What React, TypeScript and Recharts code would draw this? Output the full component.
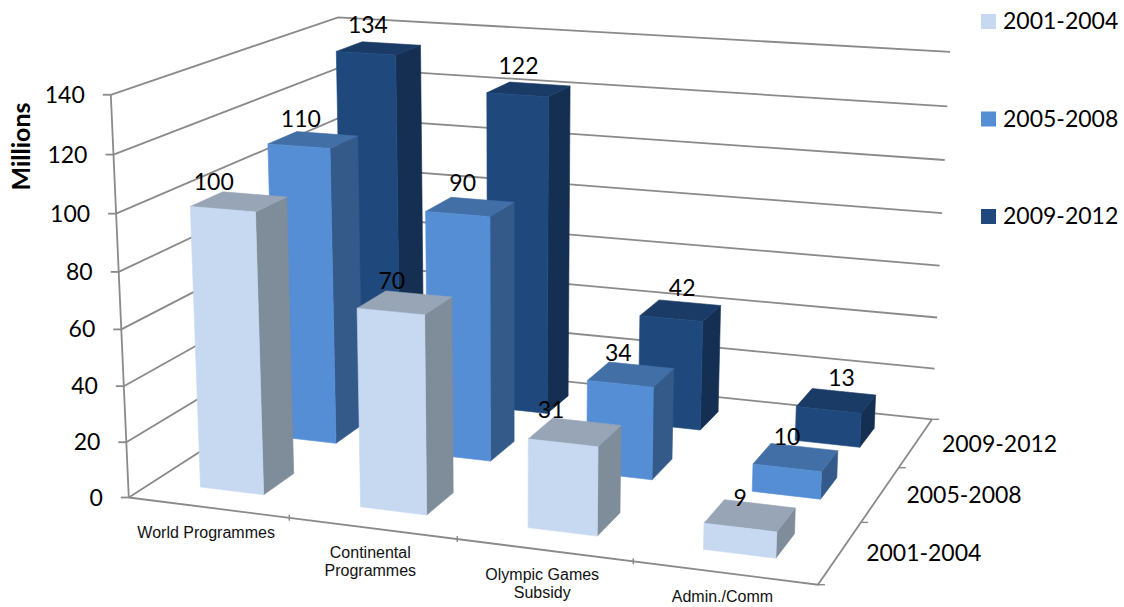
/**
 * IAAF-style funding chart: three periods of grants per programme, drawn as
 * perspective columns. Recharts supplies the scales; the column shapes push the
 * scaled pixels through a small camera fitted to the frame of the box.
 */
import { Bar, BarChart, CartesianGrid, Customized, XAxis, YAxis } from "recharts";

const categories = ["World Programmes", "Continental\nProgrammes", "Olympic Games\nSubsidy", "Admin./Comm"];
const periods = ["2001-2004", "2005-2008", "2009-2012"];
const values2001 = [100, 70, 31, 9];
const values2005 = [110, 90, 34, 10];
const values2009 = [134, 122, 42, 13];
const valueTicks = [0, 20, 40, 60, 80, 100, 120, 140];

const chartData = categories.map((name, i) => ({
  name,
  p2001: values2001[i],
  p2005: values2005[i],
  p2009: values2009[i],
}));

const CHART_W = 1124;
const CHART_H = 607;
const MAX_VALUE = 140;
const BAR_SHARE = 0.4; // gap width 150%
const BAR_W = (CHART_W / categories.length) * BAR_SHARE;

const LINE = "#8a8a8a";
const LINE_W = 1.8;
const LABEL_FONT = "Lato, sans-serif";
const AXIS_FONT = "'Liberation Sans', Arial, sans-serif";

const palette = [
  { front: "#C6D9F1", top: "#98A5B7", side: "#7F8C99" },
  { front: "#558ED5", top: "#426FA6", side: "#345A8A" },
  { front: "#1F497D", top: "#1A3B66", side: "#152F52" },
];

// hand placement of the value labels, [dx, dy] per column
const labelNudge = [
  [[-9, 3], [1, -1], [-12, -3], [0, 0]],
  [[2, 3], [5, -1], [-2, -1], [0, -1]],
  [[2, 2], [1, 1], [11, -1], [13, -2]],
];

// box corners (across, depth, height) and where they land on screen
const frame: [number, number, number, number, number][] = [
  [0, 0, 0, 128.5, 497],
  [1, 0, 0, 818, 585],
  [1, 1, 0, 932, 419],
  [0, 1, 0, 345, 359],
  [0, 0, 1, 111, 95],
  [0, 1, 1, 338, 17],
  [1, 1, 1, 950, 52],
];

function solve(a: number[][], b: number[]) {
  const n = b.length;
  const m = a.map((row, i) => [...row, b[i]]);
  for (let c = 0; c < n; c++) {
    let p = c;
    for (let r = c + 1; r < n; r++) if (Math.abs(m[r][c]) > Math.abs(m[p][c])) p = r;
    [m[c], m[p]] = [m[p], m[c]];
    for (let r = 0; r < n; r++) {
      if (r === c) continue;
      const f = m[r][c] / m[c][c];
      for (let k = c; k <= n; k++) m[r][k] -= f * m[c][k];
    }
  }
  return m.map((row, i) => row[n] / row[i]);
}

// least-squares pinhole camera, pixels scaled down to keep the system well behaved
function fitCamera() {
  const rows: number[][] = [];
  const rhs: number[] = [];
  for (const [u, v, w, sx, sy] of frame) {
    const x = sx / 1000;
    const y = sy / 1000;
    rows.push([u, v, w, 1, 0, 0, 0, 0, -x * u, -x * v, -x * w]);
    rhs.push(x);
    rows.push([0, 0, 0, 0, u, v, w, 1, -y * u, -y * v, -y * w]);
    rhs.push(y);
  }
  const ata = Array.from({ length: 11 }, (_, i) =>
    Array.from({ length: 11 }, (_, j) => rows.reduce((s, r) => s + r[i] * r[j], 0)),
  );
  const atb = Array.from({ length: 11 }, (_, i) => rows.reduce((s, r, k) => s + r[i] * rhs[k], 0));
  return solve(ata, atb);
}

const cam = fitCamera();

function project(u: number, v: number, w: number): [number, number] {
  const d = cam[8] * u + cam[9] * v + cam[10] * w + 1;
  return [
    (1000 * (cam[0] * u + cam[1] * v + cam[2] * w + cam[3])) / d,
    (1000 * (cam[4] * u + cam[5] * v + cam[6] * w + cam[7])) / d,
  ];
}

const poly = (pts: [number, number][]) => pts.map((p) => p.map((n) => n.toFixed(1)).join(",")).join(" ");

function Face({ fill, pts }: { fill: string; pts: [number, number][] }) {
  // same-colour hairline closes the antialiasing seam between faces
  return <polygon fill={fill} stroke={fill} strokeWidth={0.6} strokeLinejoin="round" points={poly(pts)} />;
}

function Column(props: any) {
  const { x, y, width, height, slot, dataKey, payload, index } = props;
  const colors = palette[slot];
  const u0 = x / CHART_W;
  const u1 = (x + width) / CHART_W;
  const w = height / CHART_H;
  const v0 = (slot + (1 - BAR_SHARE) / 2) / periods.length;
  const v1 = (slot + (1 + BAR_SHARE) / 2) / periods.length;
  const labelAt = project((u0 + u1) / 2, v0, (CHART_H - y) / CHART_H);
  const [dx, dy] = labelNudge[slot][index];
  return (
    <g>
      <Face fill={colors.side} pts={[project(u1, v0, 0), project(u1, v1, 0), project(u1, v1, w), project(u1, v0, w)]} />
      <Face fill={colors.top} pts={[project(u0, v0, w), project(u1, v0, w), project(u1, v1, w), project(u0, v1, w)]} />
      <Face fill={colors.front} pts={[project(u0, v0, 0), project(u1, v0, 0), project(u1, v0, w), project(u0, v0, w)]} />
      <text
        x={labelAt[0] + dx}
        y={labelAt[1] - 22 + dy}
        textAnchor="middle"
        fontFamily={LABEL_FONT}
        fontSize={23}
        fill="#000"
      >
        {payload[dataKey]}
      </text>
    </g>
  );
}

// one horizontal grid line, bent along the left and back walls
function WallLine(props: any) {
  const w = (CHART_H - props.y1) / CHART_H;
  return (
    <polyline
      points={poly([project(0, 0, w), project(0, 1, w), project(1, 1, w)])}
      fill="none"
      stroke={LINE}
      strokeWidth={LINE_W}
    />
  );
}

function ValueTick(props: any) {
  const { y, payload } = props;
  const a = project(0, 0, (CHART_H - y) / CHART_H);
  return (
    <g>
      <line x1={a[0] - 8} y1={a[1]} x2={a[0]} y2={a[1]} stroke={LINE} strokeWidth={LINE_W} />
      <text x={a[0] - 26} y={a[1] + 8} textAnchor="end" fontFamily={LABEL_FONT} fontSize={23} fill="#000">
        {payload.value}
      </text>
    </g>
  );
}

function CategoryTick(props: any) {
  const { x, payload, index } = props;
  const [px, py] = project(x / CHART_W, 0, 0);
  return (
    <text textAnchor="middle" fontFamily={AXIS_FONT} fontSize={16} fill="#111">
      {String(payload.value)
        .split("\n")
        .map((line, i) => (
          <tspan key={line} x={px - 2} y={py + (index === 0 ? 30 : 29.5) + i * 18}>
            {line}
          </tspan>
        ))}
    </text>
  );
}

function Frame() {
  const corner = project(0, 0, 0);
  const right = project(1, 0, 0);
  const back = project(1, 1, 0);
  return (
    <g>
      <line x1={corner[0]} y1={corner[1]} x2={project(0, 0, 1)[0]} y2={project(0, 0, 1)[1]} stroke={LINE} strokeWidth={LINE_W} />
      <polyline points={poly([corner, right, back])} fill="none" stroke={LINE} strokeWidth={LINE_W} />
      {categories.slice(1).map((name, i) => {
        const [tx, ty] = project((i + 1) / categories.length, 0, 0);
        return <line key={name} x1={tx} y1={ty - 3} x2={tx} y2={ty + 3} stroke={LINE} strokeWidth={1.4} />;
      })}
      {[0, 1, 2, 3].map((i) => {
        const [tx, ty] = project(1, i / periods.length, 0);
        return <line key={i} x1={tx} y1={ty} x2={tx + 7} y2={ty} stroke={LINE} strokeWidth={1.4} />;
      })}
      {periods.map((p, i) => {
        const [tx, ty] = project(1, (i + 0.5) / periods.length, 0);
        return (
          <text key={p} x={tx + 26} y={ty + 9} fontFamily={LABEL_FONT} fontSize={23} fill="#000" textAnchor="start">
            {p}
          </text>
        );
      })}
      <text
        transform="translate(29.5,146.5) rotate(-90)"
        textAnchor="middle"
        fontFamily={LABEL_FONT}
        fontWeight="bold"
        fontSize={25}
        fill="#000"
      >
        Millions
      </text>
    </g>
  );
}

function PeriodKey() {
  return (
    <g>
      {periods.map((p, i) => (
        <g key={p}>
          <rect x={981} y={14 + i * 97.5} width={15} height={15} fill={palette[i].front} />
          <text x={1003} y={29 + i * 97.5} fontFamily={LABEL_FONT} fontSize={23} fill="#000">
            {p}
          </text>
        </g>
      ))}
    </g>
  );
}

export default function App() {
  return (
    <div style={{ position: "absolute", left: 0, top: 0, width: CHART_W, height: CHART_H, background: "#fff" }}>
      <BarChart
        width={CHART_W}
        height={CHART_H}
        data={chartData}
        margin={{ top: 0, right: 0, bottom: -1, left: -1 }}
        barSize={BAR_W}
        barGap={-BAR_W}
      >
        <CartesianGrid vertical={false} horizontal={(p: any) => <WallLine key={p.key} {...p} />} />
        <XAxis
          dataKey="name"
          height={1}
          interval={0}
          axisLine={false}
          tickLine={false}
          tick={<CategoryTick />}
        />
        <YAxis
          width={1}
          domain={[0, MAX_VALUE]}
          ticks={valueTicks}
          interval={0}
          axisLine={false}
          tickLine={false}
          tick={<ValueTick />}
        />
        <Customized component={Frame} />
        {/* painted back row first so nearer columns cover it */}
        <Bar dataKey="p2009" isAnimationActive={false} shape={(p: any) => <Column {...p} slot={2} dataKey="p2009" />} />
        <Bar dataKey="p2005" isAnimationActive={false} shape={(p: any) => <Column {...p} slot={1} dataKey="p2005" />} />
        <Bar dataKey="p2001" isAnimationActive={false} shape={(p: any) => <Column {...p} slot={0} dataKey="p2001" />} />
        <Customized component={PeriodKey} />
      </BarChart>
    </div>
  );
}
